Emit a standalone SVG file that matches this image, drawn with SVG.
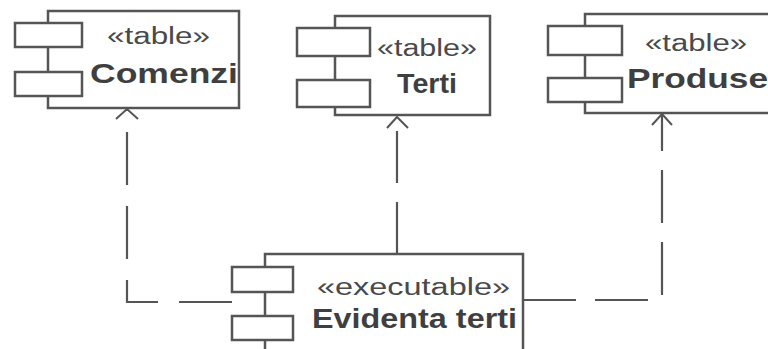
<svg xmlns="http://www.w3.org/2000/svg" width="768" height="349" viewBox="0 0 768 349">
<style>
.box{fill:#fff;stroke:#555;stroke-width:2.5}
.conn{fill:none;stroke:#555;stroke-width:2.2}
.arr{fill:none;stroke:#555;stroke-width:2}
.st{font-family:"Liberation Sans",Arial,sans-serif;font-size:23px;fill:#4a4a4a}
.nm{font-family:"Liberation Sans",Arial,sans-serif;font-size:28px;font-weight:bold;fill:#3f3f3f}
</style>
<rect x="0" y="0" width="768" height="349" fill="#fff"/>
<g id="connectors">
  <path class="conn" d="M232,302 H127 V110" stroke-dasharray="53 21"/>
  <polyline class="arr" points="116,119 127,109 138,119"/>
  <path class="conn" d="M397,254 V117" stroke-dasharray="52 19"/>
  <polyline class="arr" points="387,128 397,117 408,128"/>
  <path class="conn" d="M523,300 H662 V115" stroke-dasharray="53 19"/>
  <polyline class="arr" points="652,125 662,114 672,125"/>
</g>
<g id="comenzi">
  <rect class="box" x="48" y="11" width="191" height="97"/>
  <rect class="box" x="15" y="23" width="67" height="24"/>
  <rect class="box" x="15" y="72" width="67" height="24"/>
  <text class="st" x="107" y="44" textLength="103" lengthAdjust="spacingAndGlyphs">«table»</text>
  <text class="nm" x="90" y="83" textLength="148" lengthAdjust="spacingAndGlyphs">Comenzi</text>
</g>
<g id="terti">
  <rect class="box" x="335" y="16" width="155" height="99"/>
  <rect class="box" x="297" y="28" width="73" height="28"/>
  <rect class="box" x="297" y="80" width="73" height="27"/>
  <text class="st" x="377" y="56" textLength="100" lengthAdjust="spacingAndGlyphs">«table»</text>
  <text class="nm" x="397" y="93" textLength="60" lengthAdjust="spacingAndGlyphs">Terti</text>
</g>
<g id="produse">
  <rect class="box" x="585" y="14" width="200" height="99"/>
  <rect class="box" x="548" y="26" width="74" height="29"/>
  <rect class="box" x="548" y="78" width="74" height="24"/>
  <text class="st" x="645" y="51" textLength="102" lengthAdjust="spacingAndGlyphs">«table»</text>
  <text class="nm" x="627" y="88" textLength="141" lengthAdjust="spacingAndGlyphs">Produse</text>
</g>
<g id="evidenta">
  <rect class="box" x="265" y="254" width="258" height="110"/>
  <rect class="box" x="232" y="267" width="61" height="25"/>
  <rect class="box" x="232" y="316" width="61" height="24"/>
  <text class="st" x="317" y="295" textLength="193" lengthAdjust="spacingAndGlyphs">«executable»</text>
  <text class="nm" x="312" y="328" textLength="205" lengthAdjust="spacingAndGlyphs">Evidenta terti</text>
</g>
</svg>
